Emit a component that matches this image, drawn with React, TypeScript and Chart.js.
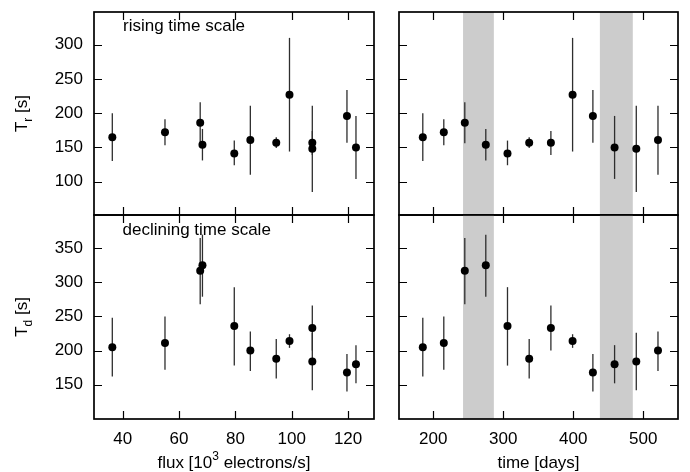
import React, { useEffect, useRef } from 'react';
import { Chart, registerables } from 'chart.js';

Chart.register(...registerables);

// ---- data (one entry per observation, ordered by time) ----
const timeDays = [185, 215, 245, 275, 306, 337, 368, 399, 428, 459, 490, 521];
const fluxK = [36.3, 55.0, 67.5, 68.3, 79.6, 94.5, 107.3, 99.2, 119.6, 122.8, 107.3, 85.3];
const riseT = [165, 172, 186, 154, 141, 157, 157, 227, 196, 150, 148, 161];
const riseLo = [130, 153, 156, 131, 124, 149, 139, 144, 157, 104, 85, 110];
const riseHi = [200, 191, 216, 177, 160, 165, 174, 310, 234, 196, 211, 211];
const declT = [205, 211, 317, 325, 236, 188, 233, 214, 168, 180, 184, 200];
const declLo = [162, 172, 268, 279, 178, 159, 200, 204, 140, 152, 142, 170];
const declHi = [248, 250, 365, 370, 293, 217, 266, 224, 195, 208, 226, 228];
const bandStart = [242.5, 438];
const bandEnd = [286.5, 485];
const fluxTicks = [40, 60, 80, 100, 120];
const timeTicks = [200, 300, 400, 500];
const riseTicks = [100, 150, 200, 250, 300];
const declTicks = [150, 200, 250, 300, 350];

const FAM = '"Liberation Sans", Arial, Helvetica, sans-serif';
const FS = 17;

type Part = { t: string; sub?: boolean; sup?: boolean };

function drawRich(ctx: CanvasRenderingContext2D, parts: Part[], x: number, y: number, align: 'left' | 'center') {
  const small = Math.round(FS * 0.72);
  const widths = parts.map((p) => {
    ctx.font = `${p.sub || p.sup ? small : FS}px ${FAM}`;
    return ctx.measureText(p.t).width;
  });
  const total = widths.reduce((a, b) => a + b, 0);
  let cx = align === 'center' ? x - total / 2 : x;
  ctx.textBaseline = 'alphabetic';
  ctx.textAlign = 'left';
  parts.forEach((p, i) => {
    ctx.font = `${p.sub || p.sup ? small : FS}px ${FAM}`;
    const dy = p.sub ? FS * 0.32 : p.sup ? -FS * 0.45 : 0;
    ctx.fillText(p.t, cx, y + dy);
    cx += widths[i];
  });
}

type PanelSpec = {
  xs: number[];
  ys: number[];
  lo: number[];
  hi: number[];
  xMin: number;
  xMax: number;
  yMin: number;
  yMax: number;
  xTicks: number[];
  yTicks: number[];
  showX: boolean;
  showY: boolean;
  padding: { left: number; top: number; right: number; bottom: number };
  bands: boolean;
  draw: (ctx: CanvasRenderingContext2D) => void;
};

const specs: PanelSpec[] = [
  {
    xs: fluxK, ys: riseT, lo: riseLo, hi: riseHi,
    xMin: 29.8, xMax: 129.2, yMin: 51.3, yMax: 347.8,
    xTicks: fluxTicks, yTicks: riseTicks, showX: false, showY: true,
    padding: { left: 0, top: 12, right: 316, bottom: 257 }, bands: false,
    draw: (ctx) => {
      drawRich(ctx, [{ t: 'rising time scale' }], 123, 30.5, 'left');
      ctx.save();
      ctx.translate(26.5, 113.5);
      ctx.rotate(-Math.PI / 2);
      drawRich(ctx, [{ t: 'T' }, { t: 'r', sub: true }, { t: ' [s]' }], 0, 0, 'center');
      ctx.restore();
    },
  },
  {
    xs: timeDays, ys: riseT, lo: riseLo, hi: riseHi,
    xMin: 151, xMax: 549.6, yMin: 51.3, yMax: 347.8,
    xTicks: timeTicks, yTicks: riseTicks, showX: false, showY: false,
    padding: { left: 399, top: 12, right: 12, bottom: 257 }, bands: true,
    draw: () => {},
  },
  {
    xs: fluxK, ys: declT, lo: declLo, hi: declHi,
    xMin: 29.8, xMax: 129.2, yMin: 99.7, yMax: 398.8,
    xTicks: fluxTicks, yTicks: declTicks, showX: true, showY: true,
    padding: { left: 0, top: 215, right: 316, bottom: 0 }, bands: false,
    draw: (ctx) => {
      drawRich(ctx, [{ t: 'declining time scale' }], 122.5, 235, 'left');
      drawRich(ctx, [{ t: 'flux [10' }, { t: '3', sup: true }, { t: ' electrons/s]' }], 234, 467.5, 'center');
      ctx.save();
      ctx.translate(26.5, 317);
      ctx.rotate(-Math.PI / 2);
      drawRich(ctx, [{ t: 'T' }, { t: 'd', sub: true }, { t: ' [s]' }], 0, 0, 'center');
      ctx.restore();
    },
  },
  {
    xs: timeDays, ys: declT, lo: declLo, hi: declHi,
    xMin: 151, xMax: 549.6, yMin: 99.7, yMax: 398.8,
    xTicks: timeTicks, yTicks: declTicks, showX: true, showY: false,
    padding: { left: 399, top: 215, right: 12, bottom: 0 }, bands: true,
    draw: (ctx) => {
      drawRich(ctx, [{ t: 'time [days]' }], 538.5, 467.5, 'center');
    },
  },
];

function zeroPad(sc: any) {
  sc.paddingTop = 0;
  sc.paddingBottom = 0;
  sc.paddingLeft = 0;
  sc.paddingRight = 0;
}

function makeChart(canvas: HTMLCanvasElement, s: PanelSpec) {
  const decor = {
    id: 'decor',
    beforeDatasetsDraw(chart: any) {
      const { ctx, chartArea: a } = chart;
      const x = chart.scales.x;
      const y = chart.scales.y;
      if (s.bands) {
        ctx.save();
        ctx.fillStyle = '#cccccc';
        bandStart.forEach((b, i) => {
          const x0 = x.getPixelForValue(b);
          const x1 = x.getPixelForValue(bandEnd[i]);
          ctx.fillRect(x0, a.top, x1 - x0, a.bottom - a.top);
        });
        ctx.restore();
      }
      ctx.save();
      ctx.strokeStyle = '#2e2e2e';
      ctx.lineWidth = 1.3;
      s.xs.forEach((xv, i) => {
        const px = x.getPixelForValue(xv);
        ctx.beginPath();
        ctx.moveTo(px, y.getPixelForValue(s.lo[i]));
        ctx.lineTo(px, y.getPixelForValue(s.hi[i]));
        ctx.stroke();
      });
      ctx.restore();
    },
    afterDraw(chart: any) {
      const { ctx, chartArea: a } = chart;
      const x = chart.scales.x;
      const y = chart.scales.y;
      const TL = 8;
      ctx.save();
      ctx.strokeStyle = '#000';
      ctx.lineWidth = 1.2;
      s.xTicks.forEach((v) => {
        const px = Math.round(x.getPixelForValue(v)) + 0.5;
        ctx.beginPath();
        ctx.moveTo(px, a.bottom);
        ctx.lineTo(px, a.bottom - TL);
        ctx.moveTo(px, a.top);
        ctx.lineTo(px, a.top + TL);
        ctx.stroke();
      });
      s.yTicks.forEach((v) => {
        const py = Math.round(y.getPixelForValue(v)) + 0.5;
        ctx.beginPath();
        ctx.moveTo(a.left, py);
        ctx.lineTo(a.left + TL, py);
        ctx.moveTo(a.right, py);
        ctx.lineTo(a.right - TL, py);
        ctx.stroke();
      });
      ctx.lineWidth = 1.7;
      ctx.strokeRect(a.left, a.top, a.right - a.left, a.bottom - a.top);
      ctx.fillStyle = '#000';
      s.draw(ctx);
      ctx.restore();
    },
  };

  return new Chart(canvas, {
    type: 'scatter',
    data: {
      datasets: [
        {
          data: s.xs.map((xv, i) => ({ x: xv, y: s.ys[i] })),
          backgroundColor: '#000',
          borderColor: '#000',
          pointRadius: 4,
          pointBorderWidth: 0,
          pointHoverRadius: 4,
        },
      ],
    },
    options: {
      animation: false,
      responsive: false,
      events: [],
      layout: { padding: s.padding, autoPadding: false },
      plugins: { legend: { display: false }, tooltip: { enabled: false }, title: { display: false } },
      scales: {
        x: {
          type: 'linear',
          position: 'bottom',
          min: s.xMin,
          max: s.xMax,
          grid: { display: false, drawTicks: false },
          border: { display: false },
          afterBuildTicks: (sc: any) => {
            sc.ticks = s.xTicks.map((v) => ({ value: v }));
          },
          ticks: {
            display: s.showX,
            padding: 10,
            color: '#000',
            font: { family: FAM, size: FS },
            maxRotation: 0,
            autoSkip: false,
          },
          afterFit: (sc: any) => {
            sc.height = s.showX ? 53 : 0;
            zeroPad(sc);
          },
        },
        y: {
          type: 'linear',
          position: 'left',
          min: s.yMin,
          max: s.yMax,
          grid: { display: false, drawTicks: false },
          border: { display: false },
          afterBuildTicks: (sc: any) => {
            sc.ticks = s.yTicks.map((v) => ({ value: v }));
          },
          ticks: {
            display: s.showY,
            padding: 11,
            color: '#000',
            font: { family: FAM, size: FS },
            autoSkip: false,
          },
          afterFit: (sc: any) => {
            sc.width = s.showY ? 94 : 0;
            zeroPad(sc);
          },
        },
      },
    } as any,
    plugins: [decor],
  });
}

function Panel({ spec }: { spec: PanelSpec }) {
  const ref = useRef<HTMLCanvasElement | null>(null);
  useEffect(() => {
    if (!ref.current) return;
    const chart = makeChart(ref.current, spec);
    return () => chart.destroy();
  }, [spec]);
  return (
    <canvas
      ref={ref}
      width={690}
      height={472}
      style={{ position: 'absolute', left: 0, top: 0, width: 690, height: 472 }}
    />
  );
}

export default function App() {
  return (
    <div style={{ position: 'absolute', left: 0, top: 0, width: 690, height: 472, background: '#fff' }}>
      {specs.map((s, i) => (
        <Panel key={i} spec={s} />
      ))}
    </div>
  );
}
